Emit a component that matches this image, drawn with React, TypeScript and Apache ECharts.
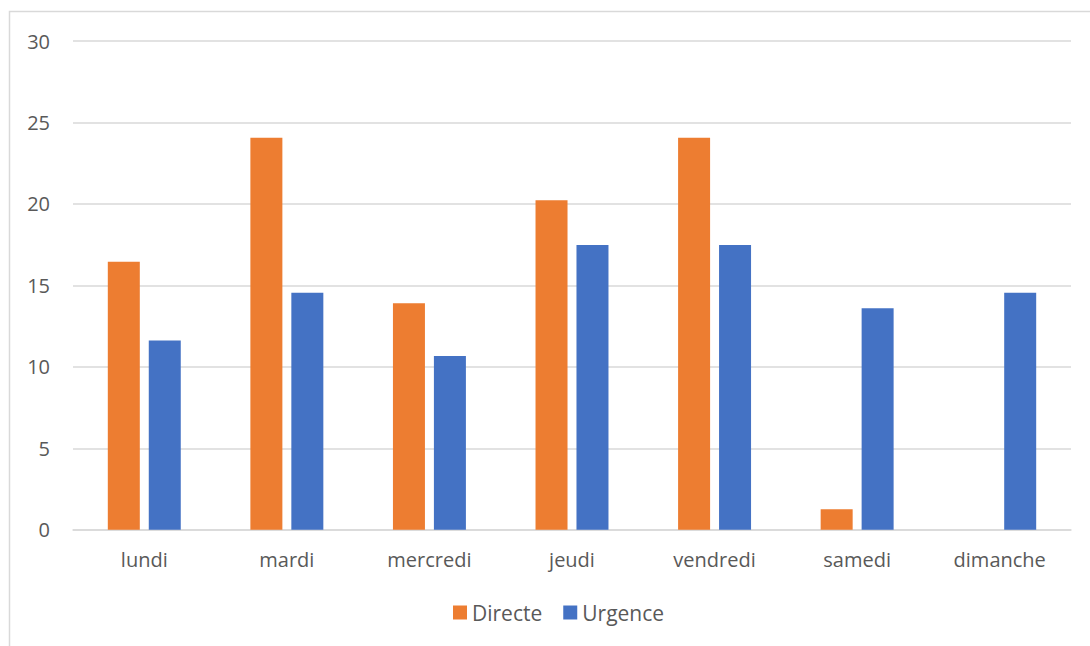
import React, { useEffect, useRef } from "react";
import * as echarts from "echarts";

const categories = ["lundi", "mardi", "mercredi", "jeudi", "vendredi", "samedi", "dimanche"];
const directe = [16.45, 24.06, 13.9, 20.22, 24.06, 1.25, 0];
const urgence = [11.62, 14.55, 10.67, 17.47, 17.47, 13.59, 14.55];
const yTicks = { min: 0, max: 30, interval: 5 };

const FONT = "'Open Sans', sans-serif";
const TEXT = "#595959";
const GRID = "#d9d9d9";

export default function App() {
  const ref = useRef<HTMLDivElement>(null);
  useEffect(() => {
    const chart = echarts.init(ref.current!, null, { renderer: "svg" });
    chart.setOption({
      animation: false,
      backgroundColor: "#ffffff",
      textStyle: { fontFamily: FONT },
      graphic: [
        {
          type: "rect",
          shape: { x: 9.5, y: 11.5, width: 1200, height: 800 },
          style: { fill: "none", stroke: GRID, lineWidth: 1.5 },
          silent: true,
        },
      ],
      grid: { left: 73, right: 19, top: 41, bottom: 116.3, containLabel: false },
      legend: {
        data: ["Directe", "Urgence"],
        bottom: 18,
        left: 448,
        itemWidth: 14,
        itemHeight: 14,
        itemGap: 21,
        icon: "rect",
        textStyle: { color: TEXT, fontSize: 21, fontFamily: FONT },
      },
      xAxis: {
        type: "category",
        data: categories,
        axisLine: { show: true, lineStyle: { color: GRID, width: 1.5 } },
        axisTick: { show: false },
        axisLabel: { color: TEXT, fontSize: 20, fontFamily: FONT, margin: 20 },
      },
      yAxis: {
        type: "value",
        min: yTicks.min,
        max: yTicks.max,
        interval: yTicks.interval,
        axisLine: { show: false },
        axisTick: { show: false },
        splitLine: { lineStyle: { color: GRID, width: 1.5 } },
        axisLabel: { color: TEXT, fontSize: 20, fontFamily: FONT, margin: 23 },
      },
      series: [
        {
          name: "Directe",
          type: "bar",
          data: directe,
          barWidth: 32,
          barGap: "28%",
          itemStyle: { color: "#ED7D31" },
        },
        {
          name: "Urgence",
          type: "bar",
          data: urgence,
          barWidth: 32,
          itemStyle: { color: "#4472C4" },
        },
      ],
    });
    return () => chart.dispose();
  }, []);
  return (
    <div style={{ position: "fixed", left: 0, top: 0, width: 1090, height: 646, background: "#fff" }}>
      <div ref={ref} style={{ width: 1090, height: 646 }} />
    </div>
  );
}
